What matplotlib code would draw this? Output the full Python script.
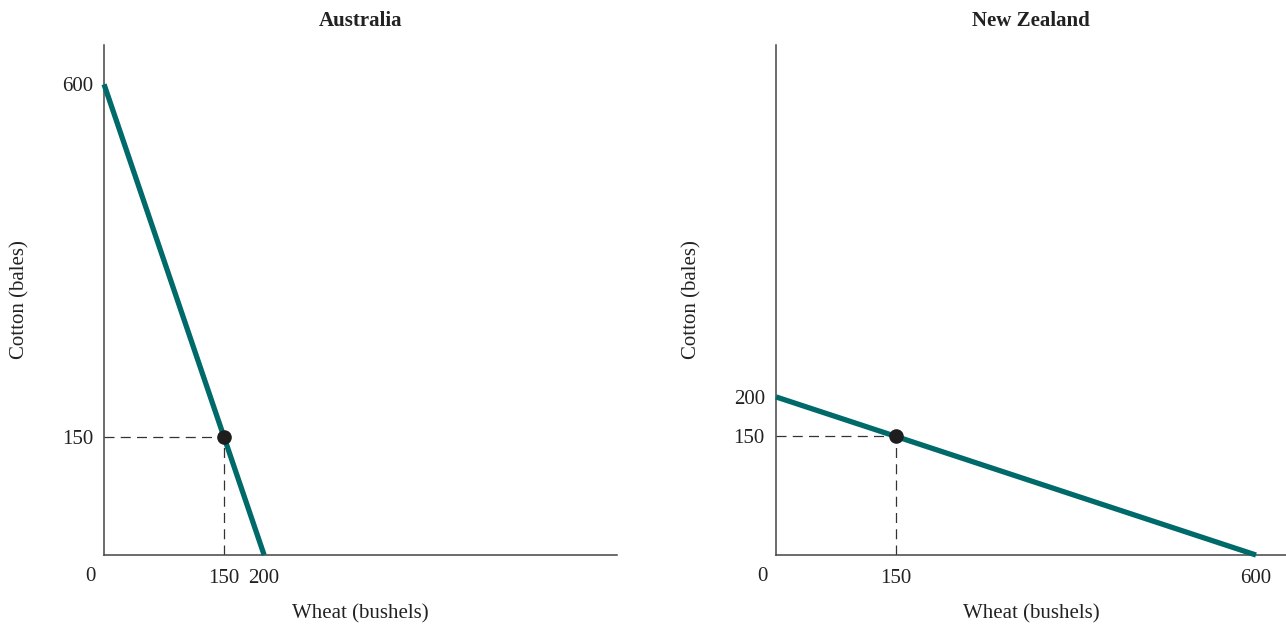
import matplotlib.pyplot as plt

plt.rcParams['font.family'] = ['Liberation Serif', 'DejaVu Serif']

# production possibility frontiers
countries = ["Australia", "New Zealand"]
wheat_max = [200, 600]
cotton_max = [600, 200]
point_wheat = [150, 150]
point_cotton = [150, 150]
xticks = [[150, 200], [150, 600]]
yticks = [[150, 600], [150, 200]]
xlims = [641, 637.5]
ylims = [650, 645]

TEAL = "#006a6a"
AXIS = "#444444"
TXT = "#222222"
FS = 15

fig = plt.figure(figsize=(12.86, 6.28), dpi=100)
boxes = [[0.0809, 0.1162, 0.399, 0.812], [0.6034, 0.1162, 0.3966, 0.812]]

for i, name in enumerate(countries):
    ax = fig.add_axes(boxes[i])
    ax.set_xlim(0, xlims[i])
    ax.set_ylim(0, ylims[i])
    for s in ["top", "right"]:
        ax.spines[s].set_visible(False)
    for s in ["left", "bottom"]:
        ax.spines[s].set_color(AXIS)
        ax.spines[s].set_linewidth(1.1)

    # frontier
    ax.plot([0, wheat_max[i]], [cotton_max[i], 0], color=TEAL, lw=3.8,
            solid_capstyle="butt", clip_on=False, zorder=3)
    # guides to the chosen point
    px, py = point_wheat[i], point_cotton[i]
    ax.plot([0, px], [py, py], color="#333333", lw=0.9, dashes=(8, 5), zorder=2)
    ax.plot([px, px], [0, py], color="#333333", lw=0.9, dashes=(8, 5), zorder=2)
    ax.plot(px, py, "o", color="#1e1e1e", ms=9.5, zorder=4)

    ax.set_xticks(xticks[i])
    ax.set_yticks(yticks[i])
    ax.tick_params(length=0, labelsize=FS, colors=TXT)
    ax.tick_params(axis="x", pad=10)
    ax.tick_params(axis="y", pad=8)
    ax.annotate("0", xy=(0, 0), xytext=(-14, -21), textcoords="offset pixels",
                fontsize=FS, color=TXT, ha="center", va="center")

    ax.set_title(name, fontsize=FS, fontweight="bold", pad=14, color=TXT)
    ax.set_xlabel("Wheat (bushels)", fontsize=FS, labelpad=12, color=TXT)
    ax.set_ylabel("Cotton (bales)", fontsize=FS, labelpad=23, color=TXT)

fig.savefig("out.png", dpi=100)
